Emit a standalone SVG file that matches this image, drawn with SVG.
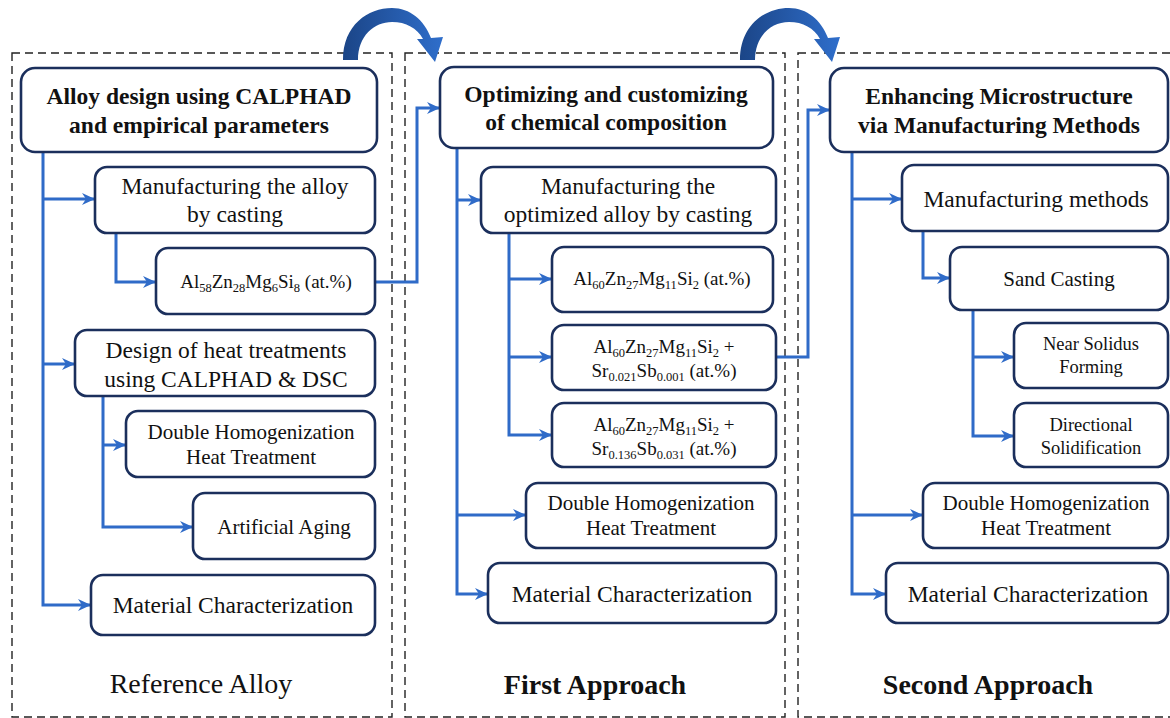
<svg xmlns="http://www.w3.org/2000/svg" width="1170" height="718" viewBox="0 0 1170 718">
<defs>
<linearGradient id="ag" x1="0" y1="0" x2="1" y2="0">
<stop offset="0" stop-color="#1B4587"/>
<stop offset="1" stop-color="#2F6ECB"/>
</linearGradient>
<marker id="ah" markerUnits="userSpaceOnUse" markerWidth="14" markerHeight="12" refX="13" refY="6" orient="auto">
<path d="M0,0 L13,6 L0,12 L4,6 Z" fill="#2F6BC8"/>
</marker>
</defs>
<style>
.panel{fill:none;stroke:#222;stroke-width:1.4;stroke-dasharray:8 5}
.box{fill:#fff;stroke:#1B2F5C;stroke-width:2.6}
.con{fill:none;stroke:#2F6BC8;stroke-width:3;marker-end:url(#ah)}
text{font-family:"Liberation Serif","Times New Roman",serif;fill:#111}
.t{font-size:23.5px;text-anchor:middle}
.s{font-size:21px;text-anchor:middle}
.xs{font-size:18.5px;text-anchor:middle}
.c{font-size:19px;text-anchor:middle}
.b{font-size:23.5px;font-weight:bold;text-anchor:middle}
.lbl{font-size:28px;text-anchor:middle}
.lblb{font-size:28px;font-weight:bold;text-anchor:middle}
.sub{font-size:12.5px}
</style>

<g id="panels">
<rect class="panel" x="12" y="53" width="380" height="664"/>
<rect class="panel" x="405" y="53" width="380" height="664"/>
<rect class="panel" x="798" y="53" width="390" height="664"/>
</g>

<g id="curved-arrows">
<path id="carrow1" d="M343,60 C343,25 368,8 392,8 C410,8 424,20 431,38 L443,37 L435,62 L417,39 L423,39 C417,28 406,22 392,22 C374,22 358,36 358,60 Z" fill="url(#ag)"/>
<path id="carrow2" d="M343,60 C343,25 368,8 392,8 C410,8 424,20 431,38 L443,37 L435,62 L417,39 L423,39 C417,28 406,22 392,22 C374,22 358,36 358,60 Z" fill="url(#ag)" transform="translate(397,0)"/>
</g>

<g id="connectors">
<path class="con" d="M43,152 V605 H91"/>
<path class="con" d="M43,199 H95"/>
<path class="con" d="M43,364 H75"/>
<path class="con" d="M116,233 V282 H156"/>
<path class="con" d="M103,396 V527 H193"/>
<path class="con" d="M103,445 H126"/>
<path class="con" d="M375,282 H417 V108 H440"/>
<path class="con" d="M457,148 V594 H488"/>
<path class="con" d="M457,200 H481"/>
<path class="con" d="M457,515 H526"/>
<path class="con" d="M509,233 V435 H552"/>
<path class="con" d="M509,279 H552"/>
<path class="con" d="M509,357 H552"/>
<path class="con" d="M776,357 H808 V110 H830"/>
<path class="con" d="M852,152 V594 H886"/>
<path class="con" d="M852,199 H902"/>
<path class="con" d="M852,515 H923"/>
<path class="con" d="M923,231 V278 H950"/>
<path class="con" d="M973,310 V436 H1014"/>
<path class="con" d="M973,357 H1014"/>
</g>

<!-- Column 1 -->
<g id="n-alloy-design">
<rect class="box" x="21" y="68" width="356" height="84" rx="14"/>
<text class="b" x="199" y="104">Alloy design using CALPHAD</text>
<text class="b" x="199" y="133">and empirical parameters</text>
</g>
<g id="n-manuf-casting">
<rect class="box" x="95" y="167" width="280" height="66" rx="12"/>
<text class="t" x="235" y="194">Manufacturing the alloy</text>
<text class="t" x="235" y="222">by casting</text>
</g>
<g id="n-al58">
<rect class="box" x="156" y="248" width="219" height="66" rx="12"/>
<text class="c" x="266" y="288">Al<tspan class="sub" dy="4">58</tspan><tspan dy="-4">Zn</tspan><tspan class="sub" dy="4">28</tspan><tspan dy="-4">Mg</tspan><tspan class="sub" dy="4">6</tspan><tspan dy="-4">Si</tspan><tspan class="sub" dy="4">8</tspan><tspan dy="-4"> (at.%)</tspan></text>
</g>
<g id="n-design-heat">
<rect class="box" x="75" y="330" width="300" height="66" rx="12"/>
<text class="t" x="226" y="358">Design of heat treatments</text>
<text class="t" x="226" y="387">using CALPHAD &amp; DSC</text>
</g>
<g id="n-dh1">
<rect class="box" x="126" y="411" width="249" height="66" rx="12"/>
<text class="s" x="251" y="439">Double Homogenization</text>
<text class="s" x="251" y="464">Heat Treatment</text>
</g>
<g id="n-aging">
<rect class="box" x="193" y="493" width="182" height="66" rx="12"/>
<text class="s" x="284" y="534">Artificial Aging</text>
</g>
<g id="n-mc1">
<rect class="box" x="91" y="575" width="284" height="60" rx="12"/>
<text class="t" x="233" y="613">Material Characterization</text>
</g>
<text class="lbl" x="201" y="693">Reference Alloy</text>

<!-- Column 2 -->
<g id="n-optimizing">
<rect class="box" x="440" y="67" width="333" height="81" rx="14"/>
<text class="b" x="606" y="102">Optimizing and customizing</text>
<text class="b" x="606" y="130">of chemical composition</text>
</g>
<g id="n-manuf-opt">
<rect class="box" x="481" y="167" width="295" height="66" rx="12"/>
<text class="t" x="628" y="194">Manufacturing the</text>
<text class="t" x="628" y="222">optimized alloy by casting</text>
</g>
<g id="n-al60">
<rect class="box" x="552" y="247" width="221" height="65" rx="12"/>
<text class="c" x="662" y="285">Al<tspan class="sub" dy="4">60</tspan><tspan dy="-4">Zn</tspan><tspan class="sub" dy="4">27</tspan><tspan dy="-4">Mg</tspan><tspan class="sub" dy="4">11</tspan><tspan dy="-4">Si</tspan><tspan class="sub" dy="4">2</tspan><tspan dy="-4"> (at.%)</tspan></text>
</g>
<g id="n-al60-sr1">
<rect class="box" x="552" y="325" width="224" height="65" rx="12"/>
<text class="c" x="664" y="353">Al<tspan class="sub" dy="4">60</tspan><tspan dy="-4">Zn</tspan><tspan class="sub" dy="4">27</tspan><tspan dy="-4">Mg</tspan><tspan class="sub" dy="4">11</tspan><tspan dy="-4">Si</tspan><tspan class="sub" dy="4">2</tspan><tspan dy="-4"> +</tspan></text>
<text class="c" x="664" y="377">Sr<tspan class="sub" dy="4">0.021</tspan><tspan dy="-4">Sb</tspan><tspan class="sub" dy="4">0.001</tspan><tspan dy="-4">  (at.%)</tspan></text>
</g>
<g id="n-al60-sr2">
<rect class="box" x="552" y="403" width="224" height="64" rx="12"/>
<text class="c" x="664" y="431">Al<tspan class="sub" dy="4">60</tspan><tspan dy="-4">Zn</tspan><tspan class="sub" dy="4">27</tspan><tspan dy="-4">Mg</tspan><tspan class="sub" dy="4">11</tspan><tspan dy="-4">Si</tspan><tspan class="sub" dy="4">2</tspan><tspan dy="-4"> +</tspan></text>
<text class="c" x="664" y="455">Sr<tspan class="sub" dy="4">0.136</tspan><tspan dy="-4">Sb</tspan><tspan class="sub" dy="4">0.031</tspan><tspan dy="-4">  (at.%)</tspan></text>
</g>
<g id="n-dh2">
<rect class="box" x="526" y="483" width="250" height="65" rx="12"/>
<text class="s" x="651" y="510">Double Homogenization</text>
<text class="s" x="651" y="535">Heat Treatment</text>
</g>
<g id="n-mc2">
<rect class="box" x="488" y="563" width="288" height="60" rx="12"/>
<text class="t" x="632" y="602">Material Characterization</text>
</g>
<text class="lblb" x="595" y="694">First Approach</text>

<!-- Column 3 -->
<g id="n-enhancing">
<rect class="box" x="830" y="68" width="338" height="84" rx="14"/>
<text class="b" x="999" y="104">Enhancing Microstructure</text>
<text class="b" x="999" y="133">via Manufacturing Methods</text>
</g>
<g id="n-manuf-methods">
<rect class="box" x="902" y="165" width="266" height="66" rx="12"/>
<text class="t" x="1036" y="207">Manufacturing methods</text>
</g>
<g id="n-sand">
<rect class="box" x="950" y="247" width="218" height="63" rx="12"/>
<text class="s" x="1059" y="286">Sand Casting</text>
</g>
<g id="n-near-solidus">
<rect class="box" x="1014" y="323" width="154" height="65" rx="12"/>
<text class="xs" x="1091" y="350">Near Solidus</text>
<text class="xs" x="1091" y="373">Forming</text>
</g>
<g id="n-directional">
<rect class="box" x="1014" y="403" width="154" height="64" rx="12"/>
<text class="xs" x="1091" y="431">Directional</text>
<text class="xs" x="1091" y="454">Solidification</text>
</g>
<g id="n-dh3">
<rect class="box" x="923" y="483" width="245" height="65" rx="12"/>
<text class="s" x="1046" y="510">Double Homogenization</text>
<text class="s" x="1046" y="535">Heat Treatment</text>
</g>
<g id="n-mc3">
<rect class="box" x="886" y="563" width="282" height="60" rx="12"/>
<text class="t" x="1028" y="602">Material Characterization</text>
</g>
<text class="lblb" x="988" y="694">Second Approach</text>
</svg>
